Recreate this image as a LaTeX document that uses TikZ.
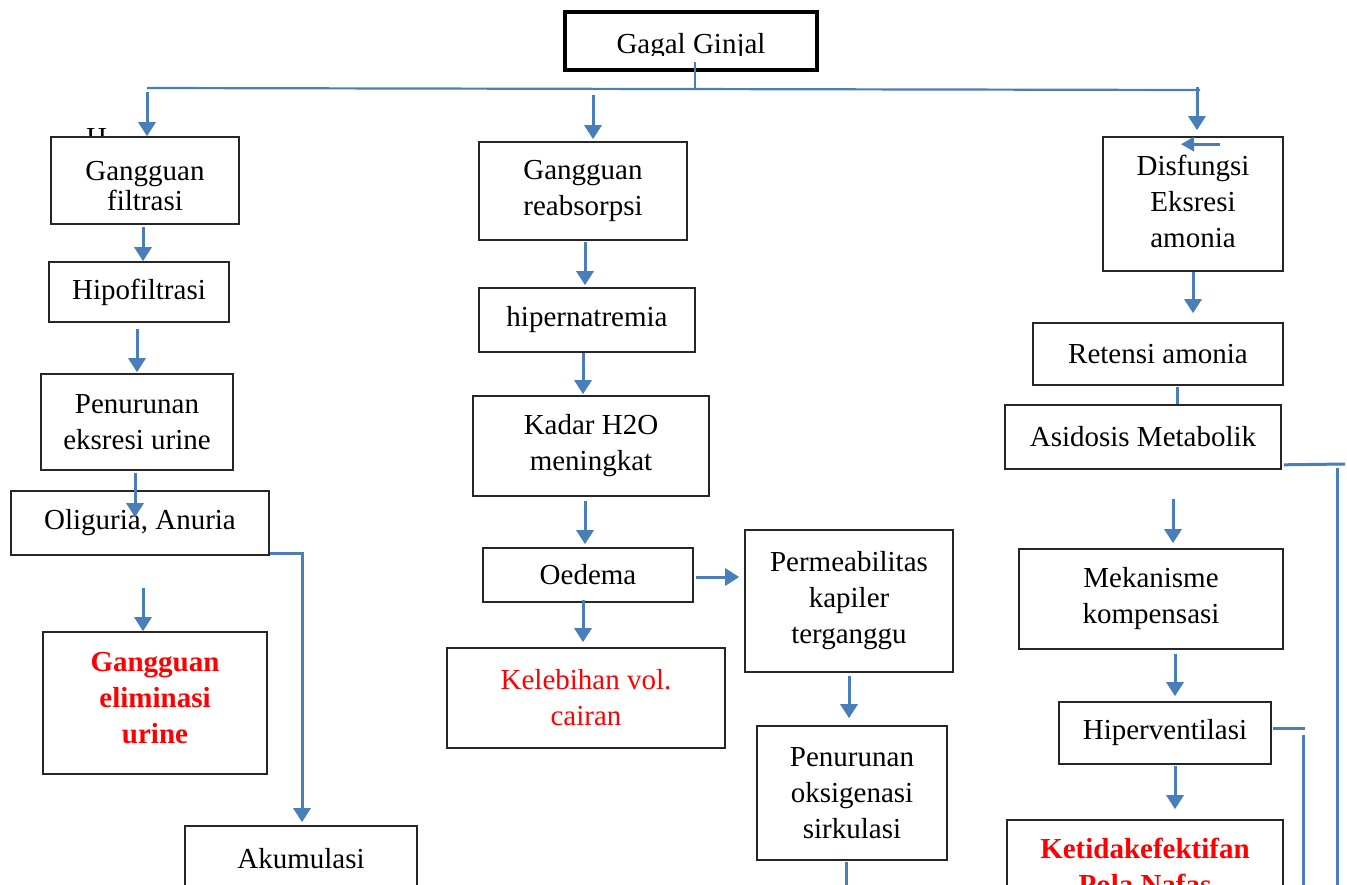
\documentclass[tikz,border=0pt]{standalone}
\usepackage{fontspec}
\setmainfont{Liberation Serif}
\usetikzlibrary{arrows.meta,calc}
\definecolor{flow}{RGB}{74,126,187}
\definecolor{alert}{RGB}{255,0,0}
\begin{document}
\begin{tikzpicture}[x=1pt,y=-1pt,
  txt/.style={font=\fontsize{29}{36}\selectfont},
  box/.style={draw=black!85,line width=1.6pt,fill=white,align=center,inner sep=0pt,txt},
  warn/.style={text=alert},
  warnbold/.style={text=alert,font=\fontsize{29}{36}\selectfont\bfseries},
  sz/.style 2 args={minimum width=#1,minimum height=#2},
  arr/.style={draw=flow,line width=3pt,-{Triangle[width=17pt,length=14pt]}},
  link/.style={draw=flow,line width=3pt},
  bus/.style={draw=flow,line width=2.2pt}]

\useasboundingbox (0,0) rectangle (1347,884);
\clip (0,0) rectangle (1347,884);

% top box, its label clipped at the bottom edge
\node[draw=black,line width=4.5pt,sz={252}{58}] (ginjal) at (691,41) {};
\begin{scope}
  \clip (568,15) rectangle (814,55);
  \node[txt,anchor=base] (ginjaltxt) at (691,53.5) {Gagal Ginjal};
\end{scope}

% stray letter partly hidden behind the first box
\node[txt,anchor=base west,inner sep=0pt] (hfrag) at (86,147) {H};

% left column
\node[box,sz={188}{87}] (filtrasi) at (145,180.5) {};
\node[txt,align=center,font=\fontsize{29}{30}\selectfont] (filtrasitxt) at (145,186) {Gangguan\\filtrasi};
\node[box,sz={180}{60}] (hipo) at (139,292) {Hipofiltrasi};
\node[box,sz={192}{96}] (pen1) at (137,422) {Penurunan\\eksresi urine};
\node[box,sz={258}{64}] (olig) at (140,523) {Oliguria, Anuria};
\node[box,sz={224}{142}] (elim) at (155,703) {};
\node[warnbold,align=center] (elimtxt) at (155,698) {Gangguan\\eliminasi\\urine};
\node[box,sz={232}{100}] (akum) at (301,876) {Akumulasi\\\mbox{}};

% middle column
\node[box,sz={208}{98}] (reabs) at (583,191) {Gangguan\\reabsorpsi};
\node[box,sz={216}{64}] (hipern) at (587,320) {hipernatremia};
\node[box,sz={236}{100}] (kadar) at (591,446) {Kadar H2O\\meningkat};
\node[box,sz={210}{54}] (oedema) at (588,575) {Oedema};
\node[box,sz={278}{100},warn] (lebih) at (586,698) {Kelebihan vol.\\cairan};
\node[box,sz={208}{142}] (perm) at (849,601) {Permeabilitas\\kapiler\\terganggu};
\node[box,sz={190}{134}] (pen2) at (852,793) {Penurunan\\oksigenasi\\sirkulasi};

% right column
\node[box,sz={180}{134}] (disf) at (1193,204) {};
\node[txt,align=center] (disftxt) at (1193,201) {Disfungsi\\Eksresi\\amonia};
\node[box,sz={250}{62}] (retensi) at (1158,354) {Retensi amonia};
\node[box,sz={276}{64}] (asid) at (1143,437) {Asidosis Metabolik};
\node[box,sz={264}{100}] (meka) at (1151,599) {Mekanisme\\kompensasi};
\node[box,sz={212}{62}] (hiperv) at (1165,733) {Hiperventilasi};
\node[box,sz={276}{92},warnbold] (ketidak) at (1145,866) {Ketidakefektifan\\Pola Nafas};

% distribution bus below the top box
\coordinate (busL) at (147,88);
\coordinate (busR) at (1200,90);
\coordinate (busM) at (695,89);
\coordinate (busC) at (593,89);
\coordinate (busD) at (1197,87);
\draw[bus] (busL) -- (busR);
\draw[bus] ($(ginjal.south)+(4,-10)$) -- (busM);
\draw[arr] ($(busL)+(0,4)$) -- (busL |- filtrasi.north);
\draw[arr] ($(busC)+(0,6)$) -- ($(busC |- reabs.north)+(0,-2)$);
\draw[arr] (busD) -- ($(busD |- disf.north)+(0,-6)$);
\draw[arr,-{Triangle[width=14pt,length=13pt]}] ($(disf.north)+(27,8)$) -- ($(disf.north)+(-12,8)$);

% left column links
\draw[arr] ($(filtrasi.south)+(-2,2)$) -- ($(filtrasi.south |- hipo.north)+(-2,0)$);
\draw[arr] ($(hipo.south)+(-2,6)$) -- ($(hipo.south |- pen1.north)+(-2,-1)$);
\draw[arr] ($(pen1.south)+(-2,2)$) -- ($(pen1.south |- olig.north)+(-2,27)$);
\draw[arr] ($(olig.south)+(3,32)$) -- ($(olig.south |- elim.north)+(3,0)$);
\draw[arr] ($(olig.south east)+(0,-2)$) -| ($(akum.north)+(1,-3)$);

% middle column links
\draw[arr] ($(reabs.south)+(2,1)$) -- ($(reabs.south |- hipern.north)+(2,-2)$);
\draw[arr] ($(hipern.south)+(-4,0)$) -- ($(hipern.south |- kadar.north)+(-4,-1)$);
\draw[arr] ($(kadar.south)+(-6,4)$) -- ($(kadar.south |- oedema.north)+(-6,-3)$);
\draw[arr] ($(oedema.south)+(-5,-3)$) -- ($(oedema.south |- lebih.north)+(-5,-5)$);
\draw[arr] ($(oedema.east)+(2,2)$) -- ($(oedema.east -| perm.west)+(-5,2)$);
\draw[arr] ($(perm.south)+(0,3)$) -- ($(perm.south |- pen2.north)+(0,-7)$);
\coordinate (pen2out) at (846,900);
\draw[link] ($(pen2.south)+(-6,1)$) -- (pen2out);

% right column links
\draw[arr] (disf.south) -- ($(disf.south |- retensi.north)+(0,-9)$);
\draw[link] ($(retensi.south)+(19,1)$) -- ($(retensi.south |- asid.north)+(19,0)$);
\coordinate (asidout) at (1345,464);
\coordinate (sideAtop) at (1337,468);
\coordinate (sideAbot) at (1337,900);
\draw[link] ($(asid.south east)+(2,-5)$) -- (asidout);
\draw[link] (sideAtop) -- (sideAbot);
\draw[arr] ($(asid.south)+(30,29)$) -- ($(asid.south |- meka.north)+(30,-5)$);
\draw[arr] ($(meka.south)+(24,4)$) -- ($(meka.south |- hiperv.north)+(24,-5)$);
\draw[arr] ($(hiperv.south)+(10,1)$) -- ($(hiperv.south |- ketidak.north)+(10,-10)$);
\coordinate (hvout) at (1305,728);
\coordinate (sideBtop) at (1303,735);
\coordinate (sideBbot) at (1303,900);
\draw[link] ($(hiperv.east)+(1,-5)$) -- (hvout);
\draw[link] (sideBtop) -- (sideBbot);
\end{tikzpicture}
\end{document}
